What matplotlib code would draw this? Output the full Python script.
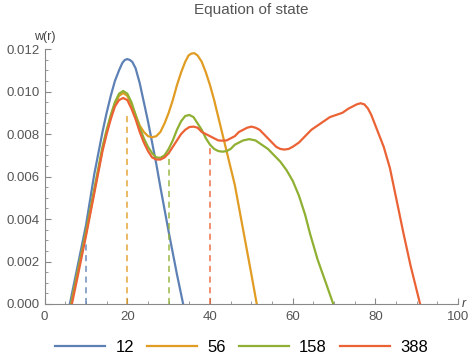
import matplotlib
matplotlib.use("Agg")
import matplotlib.pyplot as plt
from matplotlib.ticker import MultipleLocator, FormatStrFormatter

plt.rcParams['font.family'] = ['Liberation Sans', 'DejaVu Sans']

# values
x12 = [6.1, 8, 10, 12, 14, 15, 16, 17, 18, 18.8, 19.4, 20, 20.6, 21.2, 22, 23, 24, 25,
       26, 27, 28, 30, 32, 33.5]
w12 = [0, 0.0018, 0.0037, 0.0061, 0.0081, 0.0090, 0.0098, 0.0105, 0.0110, 0.01135,
       0.01149, 0.01153, 0.01149, 0.0114, 0.0111, 0.0104, 0.0095, 0.0086, 0.0076, 0.0066,
       0.0055, 0.0034, 0.0014, 0]

x56 = [6.4, 8, 10, 12, 14, 15, 16, 17, 18, 19, 20, 21, 22, 23, 24, 25, 26, 27, 28, 29,
       30, 31, 32, 33, 34, 34.8, 35.5, 36.2, 37, 38, 39, 40, 41, 42, 43, 44, 46, 48, 50, 51.3]
w56 = [0, 0.0015, 0.0033, 0.0053, 0.0073, 0.0081, 0.0088, 0.0094, 0.0098, 0.00993,
       0.0098, 0.0094, 0.0089, 0.0084, 0.0081, 0.00790, 0.00785, 0.0079, 0.0081, 0.0085,
       0.0090, 0.0096, 0.0103, 0.0109, 0.0114, 0.0117, 0.01179, 0.01181, 0.0117, 0.0114,
       0.0109, 0.0103, 0.0096, 0.0088, 0.0080, 0.0072, 0.0056, 0.0035, 0.0014, 0]

x158 = [6.4, 8, 10, 12, 14, 15, 16, 17, 18, 19, 20, 21, 22, 23, 24, 25, 26, 27, 28, 29,
        30, 31, 32, 33, 34, 35, 36, 37, 38, 39, 40, 41, 42, 43, 44, 45, 46, 47, 48, 49.5,
        51, 52.5, 54, 55.5, 57, 58.5, 60, 61.5, 63, 64.2, 66, 68, 69.8]
w158 = [0, 0.0015, 0.0034, 0.0054, 0.0074, 0.0082, 0.0089, 0.0095, 0.0099, 0.01003,
        0.0099, 0.0095, 0.0089, 0.0083, 0.0078, 0.0074, 0.0071, 0.0069, 0.00688, 0.0070,
        0.0073, 0.0077, 0.0082, 0.0086, 0.00885, 0.0089, 0.0088, 0.0085, 0.0082, 0.0078,
        0.0075, 0.0073, 0.0072, 0.00717, 0.0072, 0.0073, 0.0075, 0.0076, 0.0077, 0.00776,
        0.0077, 0.0075, 0.0073, 0.0070, 0.0067, 0.0063, 0.0058, 0.0051, 0.0042, 0.0033,
        0.0021, 0.0010, 0]

x388 = [6.6, 8, 10, 12, 14, 15, 16, 17, 18, 19, 20, 21, 22, 23, 24, 25, 26, 27, 28, 29,
        30, 31, 32, 33, 34, 35, 36, 37, 38, 39, 40, 41, 42, 43, 44, 45, 46, 47, 48, 49,
        50, 51, 52, 53, 54, 55, 56, 57, 58, 59, 60, 61.5, 63, 64.5, 66, 67.5, 69, 70.5,
        72, 73.5, 74.5, 75.5, 76.4, 77.3, 78.2, 79, 80, 81, 82, 83.5, 85, 86.7, 88.5, 90.8]
w388 = [0, 0.0013, 0.0032, 0.0052, 0.0072, 0.0080, 0.0087, 0.0093, 0.0096, 0.0097,
        0.0096, 0.0092, 0.0087, 0.0081, 0.0076, 0.0072, 0.0069, 0.0068, 0.0068, 0.0069,
        0.0071, 0.0074, 0.0077, 0.0080, 0.0082, 0.00833, 0.00835, 0.0083, 0.0081, 0.0080,
        0.0079, 0.0078, 0.0077, 0.00769, 0.0077, 0.0078, 0.0079, 0.0081, 0.0082, 0.0083,
        0.00835, 0.0083, 0.0082, 0.0080, 0.0078, 0.0076, 0.0074, 0.0073, 0.00727, 0.0073,
        0.0074, 0.0076, 0.0079, 0.0082, 0.0084, 0.0086, 0.0088, 0.0089, 0.0090, 0.0092,
        0.0093, 0.0094, 0.00945, 0.0094, 0.0092, 0.0089, 0.0084, 0.0079, 0.0074, 0.0064,
        0.0050, 0.0034, 0.0018, 0]

labels = ["12", "56", "158", "388"]
dash_x = [10, 20, 30, 40]
dash_top = [0.0029, 0.0090, 0.0071, 0.0075]
colors = ["#5E81B5", "#E19C24", "#8FB032", "#EB6235"]

fig = plt.figure(figsize=(4.71, 3.6), dpi=100)
ax = fig.add_axes([0.0947, 0.1556, 0.878, 0.708])

series = [(x12, w12), (x56, w56), (x158, w158), (x388, w388)]
for (xs, ws), lab, c in zip(series, labels, colors):
    ax.plot(xs, ws, color=c, lw=1.6, label=lab, solid_joinstyle='round')

for xd, top, c in zip(dash_x, dash_top, colors):
    ax.plot([xd, xd], [0, top], color=c, lw=1.1, ls=(0, (4, 3)), alpha=0.9)

ax.set_xlim(0, 100)
ax.set_ylim(0, 0.012)
ax.xaxis.set_major_locator(MultipleLocator(20))
ax.xaxis.set_minor_locator(MultipleLocator(5))
ax.yaxis.set_major_locator(MultipleLocator(0.002))
ax.yaxis.set_minor_locator(MultipleLocator(0.0005))
ax.yaxis.set_major_formatter(FormatStrFormatter('%.3f'))

gray = '#888888'
for s in ['top', 'right']:
    ax.spines[s].set_visible(False)
for s in ['left', 'bottom']:
    ax.spines[s].set_color(gray)
    ax.spines[s].set_linewidth(0.8)
ax.tick_params(which='both', direction='in', color=gray, labelcolor='#555555', labelsize=9.5)
ax.tick_params(which='major', length=4)
ax.tick_params(which='minor', length=2)
ax.tick_params(axis='x', pad=5)

ax.set_title("Equation of state", color='#555555', fontsize=11, pad=25)
ax.text(0, 1.025, "w(r)", transform=ax.transAxes, ha='center', va='bottom',
        color='#444444', fontsize=9)
ax.text(1.01, 0, "r", transform=ax.transAxes, ha='left', va='center',
        color='#444444', fontsize=9, style='italic')

ax.legend(loc='center', bbox_to_anchor=(0.513, 0.036), bbox_transform=fig.transFigure,
          ncol=4, frameon=False, fontsize=12, handlelength=3.0, handletextpad=0.6,
          columnspacing=0.8)

fig.savefig("out.png", dpi=100)
